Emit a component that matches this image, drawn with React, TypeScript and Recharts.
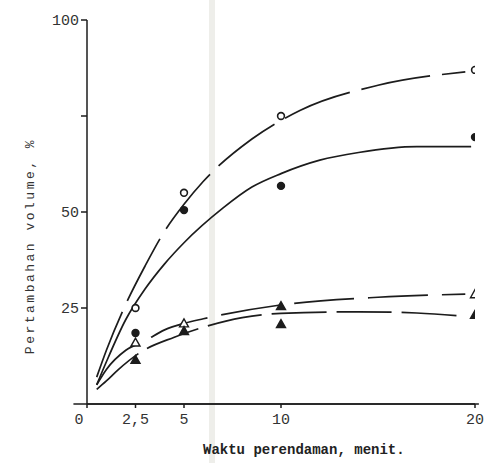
import { ComposedChart, Line, Scatter, XAxis, YAxis, ReferenceLine } from 'recharts'

// x ticks (menit) and y ticks (%)
const X_TICKS = [0, 2.5, 5, 10, 20]
const Y_TICKS = [25, 50, 75, 100]

// measured points
const openCircle = [
  { x: 2.5, y: 25 },
  { x: 5, y: 55 },
  { x: 10, y: 75 },
  { x: 20, y: 87 },
]
const filledCircle = [
  { x: 2.5, y: 18.5 },
  { x: 5, y: 50.5 },
  { x: 10, y: 56.8 },
  { x: 20, y: 69.5 },
]
const openTriangle = [
  { x: 2.5, y: 16 },
  { x: 5, y: 21 },
  { x: 20, y: 28.6 },
]
const filledTriangle = [
  { x: 2.5, y: 11.5 },
  { x: 5, y: 19 },
  { x: 10, y: 25.5 },
  { x: 10, y: 20.8 },
  { x: 20, y: 23.2 },
]

// hand-drawn fitted curves
const curveOpenCircle = [
  { x: 0.5, y: 7 }, { x: 1, y: 14 }, { x: 2, y: 26 }, { x: 3, y: 36 }, { x: 4, y: 45 },
  { x: 5, y: 52 }, { x: 6, y: 58 }, { x: 8.5, y: 69 }, { x: 11, y: 76.5 }, { x: 15, y: 83 },
  { x: 19.5, y: 86.5 },
]
const curveFilledCircle = [
  { x: 0.5, y: 5 }, { x: 1, y: 11 }, { x: 2, y: 22 }, { x: 3, y: 30 }, { x: 4, y: 36.5 },
  { x: 5, y: 42 }, { x: 7, y: 51 }, { x: 8.5, y: 56.5 }, { x: 10, y: 60 }, { x: 12, y: 63.5 },
  { x: 14, y: 65.5 }, { x: 17, y: 67 }, { x: 19.8, y: 67 },
]
const curveOpenTriangle = [
  { x: 0.5, y: 5 }, { x: 1, y: 9 }, { x: 2, y: 14 }, { x: 3, y: 16.5 }, { x: 4, y: 19.3 },
  { x: 5, y: 21 }, { x: 6, y: 22.2 }, { x: 10, y: 25.8 }, { x: 15, y: 27.8 }, { x: 19.5, y: 28.6 },
]
const curveFilledTriangle = [
  { x: 0.5, y: 3.8 }, { x: 1, y: 6 }, { x: 1.6, y: 8.9 }, { x: 2.7, y: 13.3 }, { x: 4.5, y: 17.4 },
  { x: 6, y: 20 }, { x: 8, y: 22.5 }, { x: 10, y: 23.6 }, { x: 14, y: 24 }, { x: 17, y: 23.7 },
  { x: 19.5, y: 22.8 },
]

const INK = '#1c1c1c'
const FONT = '"Liberation Mono", "DejaVu Sans Mono", monospace'

const circle = (filled: boolean) => (p: any) => (
  <circle cx={p.cx} cy={p.cy} r={3.4} fill={filled ? INK : '#fff'} stroke={INK} strokeWidth={1.6} />
)
const triangle = (filled: boolean) => (p: any) => (
  <polygon
    points={`${p.cx},${p.cy - 4.5} ${p.cx - 4.5},${p.cy + 3.5} ${p.cx + 4.5},${p.cy + 3.5}`}
    fill={filled ? INK : '#fff'}
    stroke={INK}
    strokeWidth={1.4}
  />
)

const XTick = (p: any) => {
  const v = p.payload.value
  const label = String(v).replace('.', ',')
  return (
    <text x={p.x + (v === 0 ? -8 : 0)} y={p.y + 14} textAnchor="middle" fontFamily={FONT} fontSize={15} fill="#333">
      {label}
    </text>
  )
}

const YTick = (p: any) => {
  const v = p.payload.value
  if (v === 75) return <g />
  return (
    <text x={p.x} y={p.y + 5} textAnchor="end" fontFamily={FONT} fontSize={15} fill="#333">
      {v}
    </text>
  )
}

export default function App() {
  return (
    <div style={{ position: 'absolute', left: 0, top: 0, width: 493, height: 463, background: '#fff' }}>
      <div style={{ position: 'absolute', left: 209, top: 0, width: 6, height: 463, background: '#eeeeea' }} />
      <ComposedChart
        width={493}
        height={463}
        margin={{ top: 20, right: 18, bottom: 0, left: 0 }}
        style={{ position: 'absolute', left: 0, top: 0 }}
      >
        <XAxis
          type="number"
          dataKey="x"
          domain={[0, 20]}
          ticks={X_TICKS}
          height={59}
          stroke={INK}
          strokeWidth={1.5}
          tickSize={4}
          tick={<XTick />}
          allowDataOverflow
        />
        <YAxis
          type="number"
          dataKey="y"
          domain={[0, 100]}
          ticks={Y_TICKS}
          width={87}
          stroke={INK}
          strokeWidth={1.5}
          tickSize={6}
          tickMargin={2}
          tick={<YTick />}
        />
        <ReferenceLine
          segment={[{ x: -0.7, y: 0 }, { x: 20.2, y: 0 }]}
          stroke={INK}
          strokeWidth={1.5}
          ifOverflow="visible"
        />
        <Line data={curveOpenCircle} dataKey="y" type="monotone" stroke={INK} strokeWidth={1.7}
          strokeDasharray="70 12" dot={false} isAnimationActive={false} />
        <Line data={curveFilledCircle} dataKey="y" type="monotone" stroke={INK} strokeWidth={1.7}
          dot={false} isAnimationActive={false} />
        <Line data={curveOpenTriangle} dataKey="y" type="monotone" stroke={INK} strokeWidth={1.7}
          strokeDasharray="60 14" dot={false} isAnimationActive={false} />
        <Line data={curveFilledTriangle} dataKey="y" type="monotone" stroke={INK} strokeWidth={1.7}
          strokeDasharray="55 10" dot={false} isAnimationActive={false} />
        <Scatter data={openCircle} dataKey="y" shape={circle(false)} isAnimationActive={false} />
        <Scatter data={filledCircle} dataKey="y" shape={circle(true)} isAnimationActive={false} />
        <Scatter data={openTriangle} dataKey="y" shape={triangle(false)} isAnimationActive={false} />
        <Scatter data={filledTriangle} dataKey="y" shape={triangle(true)} isAnimationActive={false} />
      </ComposedChart>
      <div
        style={{
          position: 'absolute', left: 30, top: 246, transform: 'translate(-50%, -50%) rotate(-90deg)',
          whiteSpace: 'nowrap', fontFamily: FONT, fontSize: 13, letterSpacing: 2.5, color: '#333',
        }}
      >
        Pertambahan volume, %
      </div>
      <div
        style={{
          position: 'absolute', left: 203, top: 442, whiteSpace: 'nowrap',
          fontFamily: FONT, fontSize: 14, fontWeight: 'bold', color: '#222',
        }}
      >
        Waktu perendaman, menit.
      </div>
    </div>
  )
}
